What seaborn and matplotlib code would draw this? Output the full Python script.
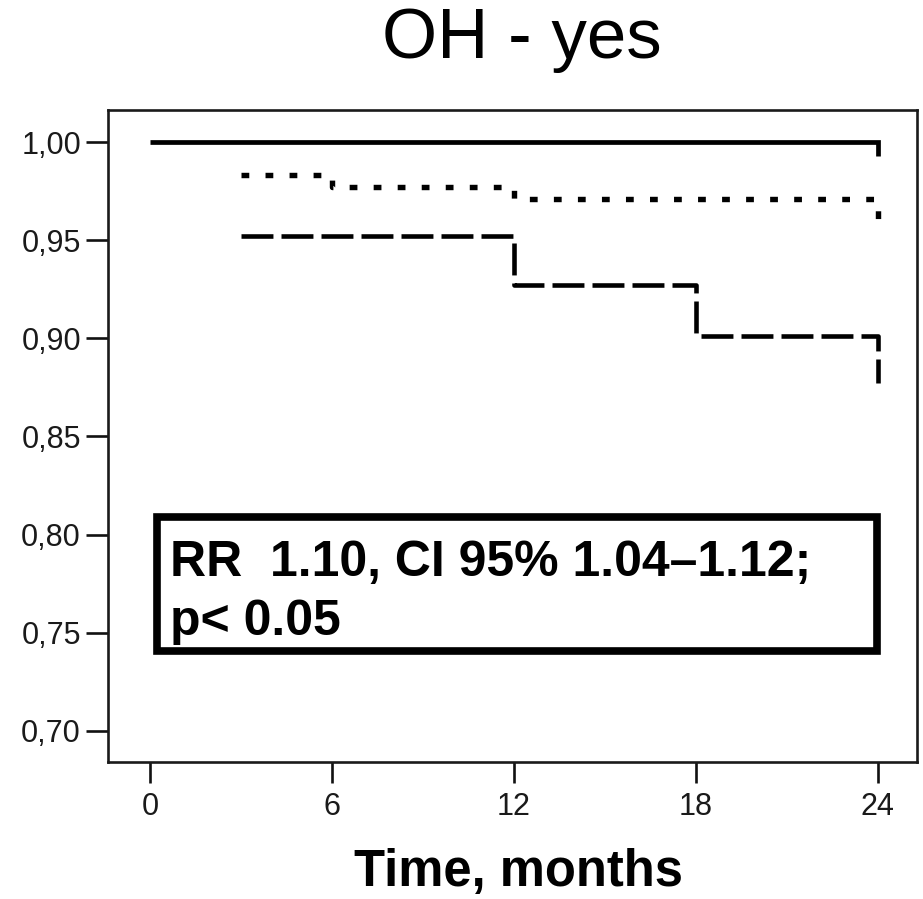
import matplotlib
matplotlib.use("Agg")
import matplotlib.pyplot as plt
import seaborn as sns
from matplotlib.patches import Rectangle

# ---- data ----
solid_time = [0, 24, 24]
solid_surv = [1.000, 1.000, 0.993]

dotted_time = [3, 6, 12, 24, 24]
dotted_surv = [0.983, 0.977, 0.971, 0.971, 0.955]

dashed_time = [3, 12, 18, 24, 24]
dashed_surv = [0.952, 0.927, 0.901, 0.901, 0.877]

x_ticks = [0, 6, 12, 18, 24]
x_tick_labels = ["0", "6", "12", "18", "24"]
y_ticks = [0.70, 0.75, 0.80, 0.85, 0.90, 0.95, 1.00]
y_tick_labels = ["0,70", "0,75", "0,80", "0,85", "0,90", "0,95", "1,00"]

title = "OH - yes"
x_label = "Time, months"
annotation = "RR  1.10, CI 95% 1.04\u20131.12;\np< 0.05"

# ---- style ----
sns.set_theme(style="white")
plt.rcParams["font.family"] = ["Liberation Sans", "DejaVu Sans"]
plt.rcParams["lines.scale_dashes"] = False

W, H = 923, 899
fig = plt.figure(figsize=(W / 100, H / 100), dpi=100)
fig.patch.set_facecolor("white")
ax = fig.add_axes([108 / W, 1 - 762 / H, (917 - 108) / W, (762 - 110) / H])
ax.set_facecolor("white")

sns.lineplot(x=solid_time, y=solid_surv, ax=ax, estimator=None, sort=False,
             drawstyle="steps-post", color="black", linewidth=3.4,
             solid_capstyle="butt", solid_joinstyle="miter")
sns.lineplot(x=dotted_time, y=dotted_surv, ax=ax, estimator=None, sort=False,
             drawstyle="steps-post", color="black", linewidth=3.9,
             linestyle=(0, (5.6, 11.7)), dash_capstyle="butt")
sns.lineplot(x=dashed_time, y=dashed_surv, ax=ax, estimator=None, sort=False,
             drawstyle="steps-post", color="black", linewidth=3.3,
             linestyle=(0, (23, 5.8)), dash_capstyle="butt")

ax.set_xlim(-1.385, 25.29)
ax.set_ylim(0.6842, 1.0163)
ax.set_xticks(x_ticks)
ax.set_xticklabels(x_tick_labels)
ax.set_yticks(y_ticks)
ax.set_yticklabels(y_tick_labels)
ax.set_xlabel("")
ax.set_ylabel("")

ax.tick_params(axis="both", which="major", bottom=True, left=True,
               direction="out", width=1.9, color="#111111",
               labelsize=22, labelcolor="#1a1a1a")
ax.tick_params(axis="y", length=16, pad=3.5)
ax.tick_params(axis="x", length=15, pad=6.5)

for side, sp in ax.spines.items():
    sp.set_visible(True)
    sp.set_color("#1a1a1a")
    sp.set_linewidth(1.9)

# ---- texts ----
fig.text(522 / W, 1 - 58 / H, title, ha="center", va="baseline",
         fontsize=51, color="black")
fig.text(519 / W, 1 - 886 / H, x_label, ha="center", va="baseline",
         fontsize=36.5, fontweight="bold", color="black")

# multiline text with va="baseline" aligns the last line's baseline
fig.text(170 / W, 1 - 635 / H, annotation, ha="left", va="baseline",
         fontsize=36, fontweight="bold", color="black", linespacing=1.35)
fig.add_artist(Rectangle((157 / W, 1 - 651 / H), 720 / W, 134 / H,
                         transform=fig.transFigure, fill=False,
                         linewidth=5.5, edgecolor="black"))

fig.savefig("out.png", dpi=100, facecolor="white")
